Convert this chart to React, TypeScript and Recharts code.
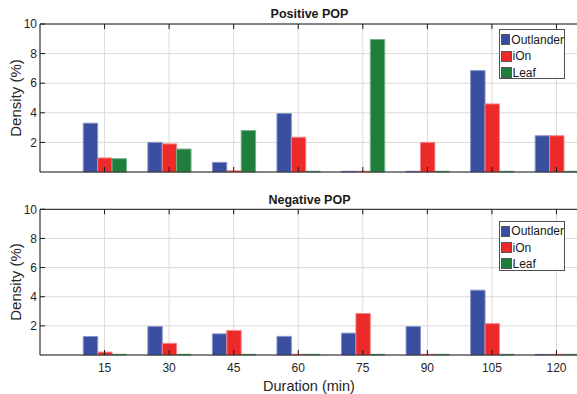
import React from 'react';
import { BarChart, Bar, XAxis, YAxis, CartesianGrid, Legend } from 'recharts';

const durations = [15, 30, 45, 60, 75, 90, 105, 120];
const yTicks = [2, 4, 6, 8, 10];
const seriesNames = ['Outlander', 'iOn', 'Leaf'];
const seriesColors = ['#3a4ea0', '#ed2a2a', '#1f7e3c'];
const seriesEdges = ['#8693cb', '#f48686', '#74b088'];

const posOutlander = [3.3, 2.0, 0.65, 3.95, 0.05, 0.05, 6.85, 2.45];
const posIOn = [0.95, 1.9, 0.08, 2.35, 0.05, 2.0, 4.6, 2.45];
const posLeaf = [0.9, 1.55, 2.8, 0.05, 8.95, 0.05, 0.05, 0.05];

const negOutlander = [1.27, 1.95, 1.45, 1.28, 1.5, 1.95, 4.45, 0.04];
const negIOn = [0.2, 0.8, 1.68, 0.05, 2.85, 0.05, 2.15, 0.05];
const negLeaf = [0.05, 0.05, 0.05, 0.05, 0.05, 0.05, 0.05, 0.05];

const buildRows = (a: number[], b: number[], c: number[]) =>
  durations.map((d, i) => ({ duration: d, Outlander: a[i], iOn: b[i], Leaf: c[i] }));

const posRows = buildRows(posOutlander, posIOn, posLeaf);
const negRows = buildRows(negOutlander, negIOn, negLeaf);

const FONT = '"Liberation Sans", Arial, Helvetica, sans-serif';

const EmptyTick = () => <g />;

const LegendBox = () => (
  <div
    style={{
      width: 66,
      height: 50,
      boxSizing: 'border-box',
      border: '1px solid #505050',
      background: '#fff',
      paddingTop: 1.5,
      paddingLeft: 1,
      fontFamily: FONT,
    }}
  >
    {seriesNames.map((n, i) => (
      <div key={n} style={{ display: 'flex', alignItems: 'center', height: 16.3 }}>
        <span
          style={{
            display: 'inline-block',
            width: 10.5,
            height: 11,
            background: seriesColors[i],
            border: '0.5px solid #555',
            boxSizing: 'border-box',
          }}
        />
        <span style={{ fontSize: 12, marginLeft: 1, color: '#1a1a1a', lineHeight: '12px' }}>{n}</span>
      </div>
    ))}
  </div>
);

type PanelProps = {
  rows: any[];
  height: number;
  marginTop: number;
  marginBottom: number;
  showLabels: boolean;
  legendTop: number;
};

function Panel({ rows, height, marginTop, marginBottom, showLabels, legendTop }: PanelProps) {
  const axisLine = { stroke: '#1a1a1a', strokeWidth: 1 };
  return (
    <BarChart
      width={580}
      height={height}
      data={rows}
      margin={{ top: marginTop, right: 2, bottom: marginBottom, left: 0 }}
      barGap={0}
      barSize={14.4}
    >
      <CartesianGrid stroke="#dadada" strokeWidth={1} />
      <XAxis
        dataKey="duration"
        type="number"
        domain={[0, 125]}
        ticks={durations}
        interval={0}
        height={showLabels ? 22 : 1}
        tickSize={-5}
        tickMargin={13}
        axisLine={axisLine}
        tickLine={{ stroke: '#1a1a1a' }}
        tick={showLabels ? { fontSize: 12, fill: '#262626' } : EmptyTick}
      />
      <XAxis
        xAxisId="top"
        orientation="top"
        dataKey="duration"
        type="number"
        domain={[0, 125]}
        ticks={durations}
        interval={0}
        height={1}
        tickSize={-5}
        axisLine={axisLine}
        tickLine={{ stroke: '#1a1a1a' }}
        tick={EmptyTick}
      />
      <YAxis
        domain={[0, 10]}
        ticks={yTicks}
        interval={0}
        width={40}
        tickSize={-5}
        tickMargin={8}
        axisLine={axisLine}
        tickLine={{ stroke: '#1a1a1a' }}
        tick={{ fontSize: 12, fill: '#262626' }}
      />
      <YAxis
        yAxisId="right"
        orientation="right"
        domain={[0, 10]}
        ticks={yTicks}
        interval={0}
        width={0}
        tickSize={-5}
        axisLine={axisLine}
        tickLine={{ stroke: '#1a1a1a' }}
        tick={EmptyTick}
      />
      {seriesNames.map((n, i) => (
        <Bar
          key={n}
          dataKey={n}
          name={n}
          fill={seriesColors[i]}
          stroke={seriesEdges[i]}
          strokeWidth={1}
          isAnimationActive={false}
        />
      ))}
      <Legend
        layout="vertical"
        align="center"
        verticalAlign="middle"
        content={LegendBox}
        wrapperStyle={{ left: 499, top: legendTop, width: 66, height: 50 }}
      />
    </BarChart>
  );
}

const titleStyle: React.CSSProperties = {
  position: 'absolute',
  transform: 'translate(-50%, -50%)',
  fontWeight: 'bold',
  fontSize: 12.5,
  color: '#1a1a1a',
  whiteSpace: 'nowrap',
};

const yTitleStyle: React.CSSProperties = {
  position: 'absolute',
  transform: 'translate(-50%, -50%) rotate(-90deg)',
  fontSize: 15,
  color: '#262626',
  whiteSpace: 'nowrap',
};

export default function App() {
  return (
    <div
      style={{
        position: 'absolute',
        left: 0,
        top: 0,
        width: 577,
        height: 394,
        overflow: 'hidden',
        background: '#fff',
        fontFamily: FONT,
      }}
    >
      <div style={{ position: 'absolute', left: 0, top: 0 }}>
        <Panel rows={posRows} height={180} marginTop={23} marginBottom={7} showLabels={false} legendTop={29.3} />
      </div>
      <div style={{ position: 'absolute', left: 0, top: 185 }}>
        <Panel rows={negRows} height={192} marginTop={23.3} marginBottom={0} showLabels={true} legendTop={35.7} />
      </div>
      <div style={{ ...titleStyle, left: 309.5, top: 14 }}>Positive POP</div>
      <div style={{ ...titleStyle, left: 309.5, top: 200 }}>Negative POP</div>
      <div style={{ ...yTitleStyle, left: 15, top: 98 }}>Density (%)</div>
      <div style={{ ...yTitleStyle, left: 15, top: 282 }}>Density (%)</div>
      <div
        style={{
          position: 'absolute',
          left: 309,
          top: 386,
          transform: 'translate(-50%, -50%)',
          fontSize: 14.5,
          color: '#262626',
          whiteSpace: 'nowrap',
        }}
      >
        Duration (min)
      </div>
    </div>
  );
}
